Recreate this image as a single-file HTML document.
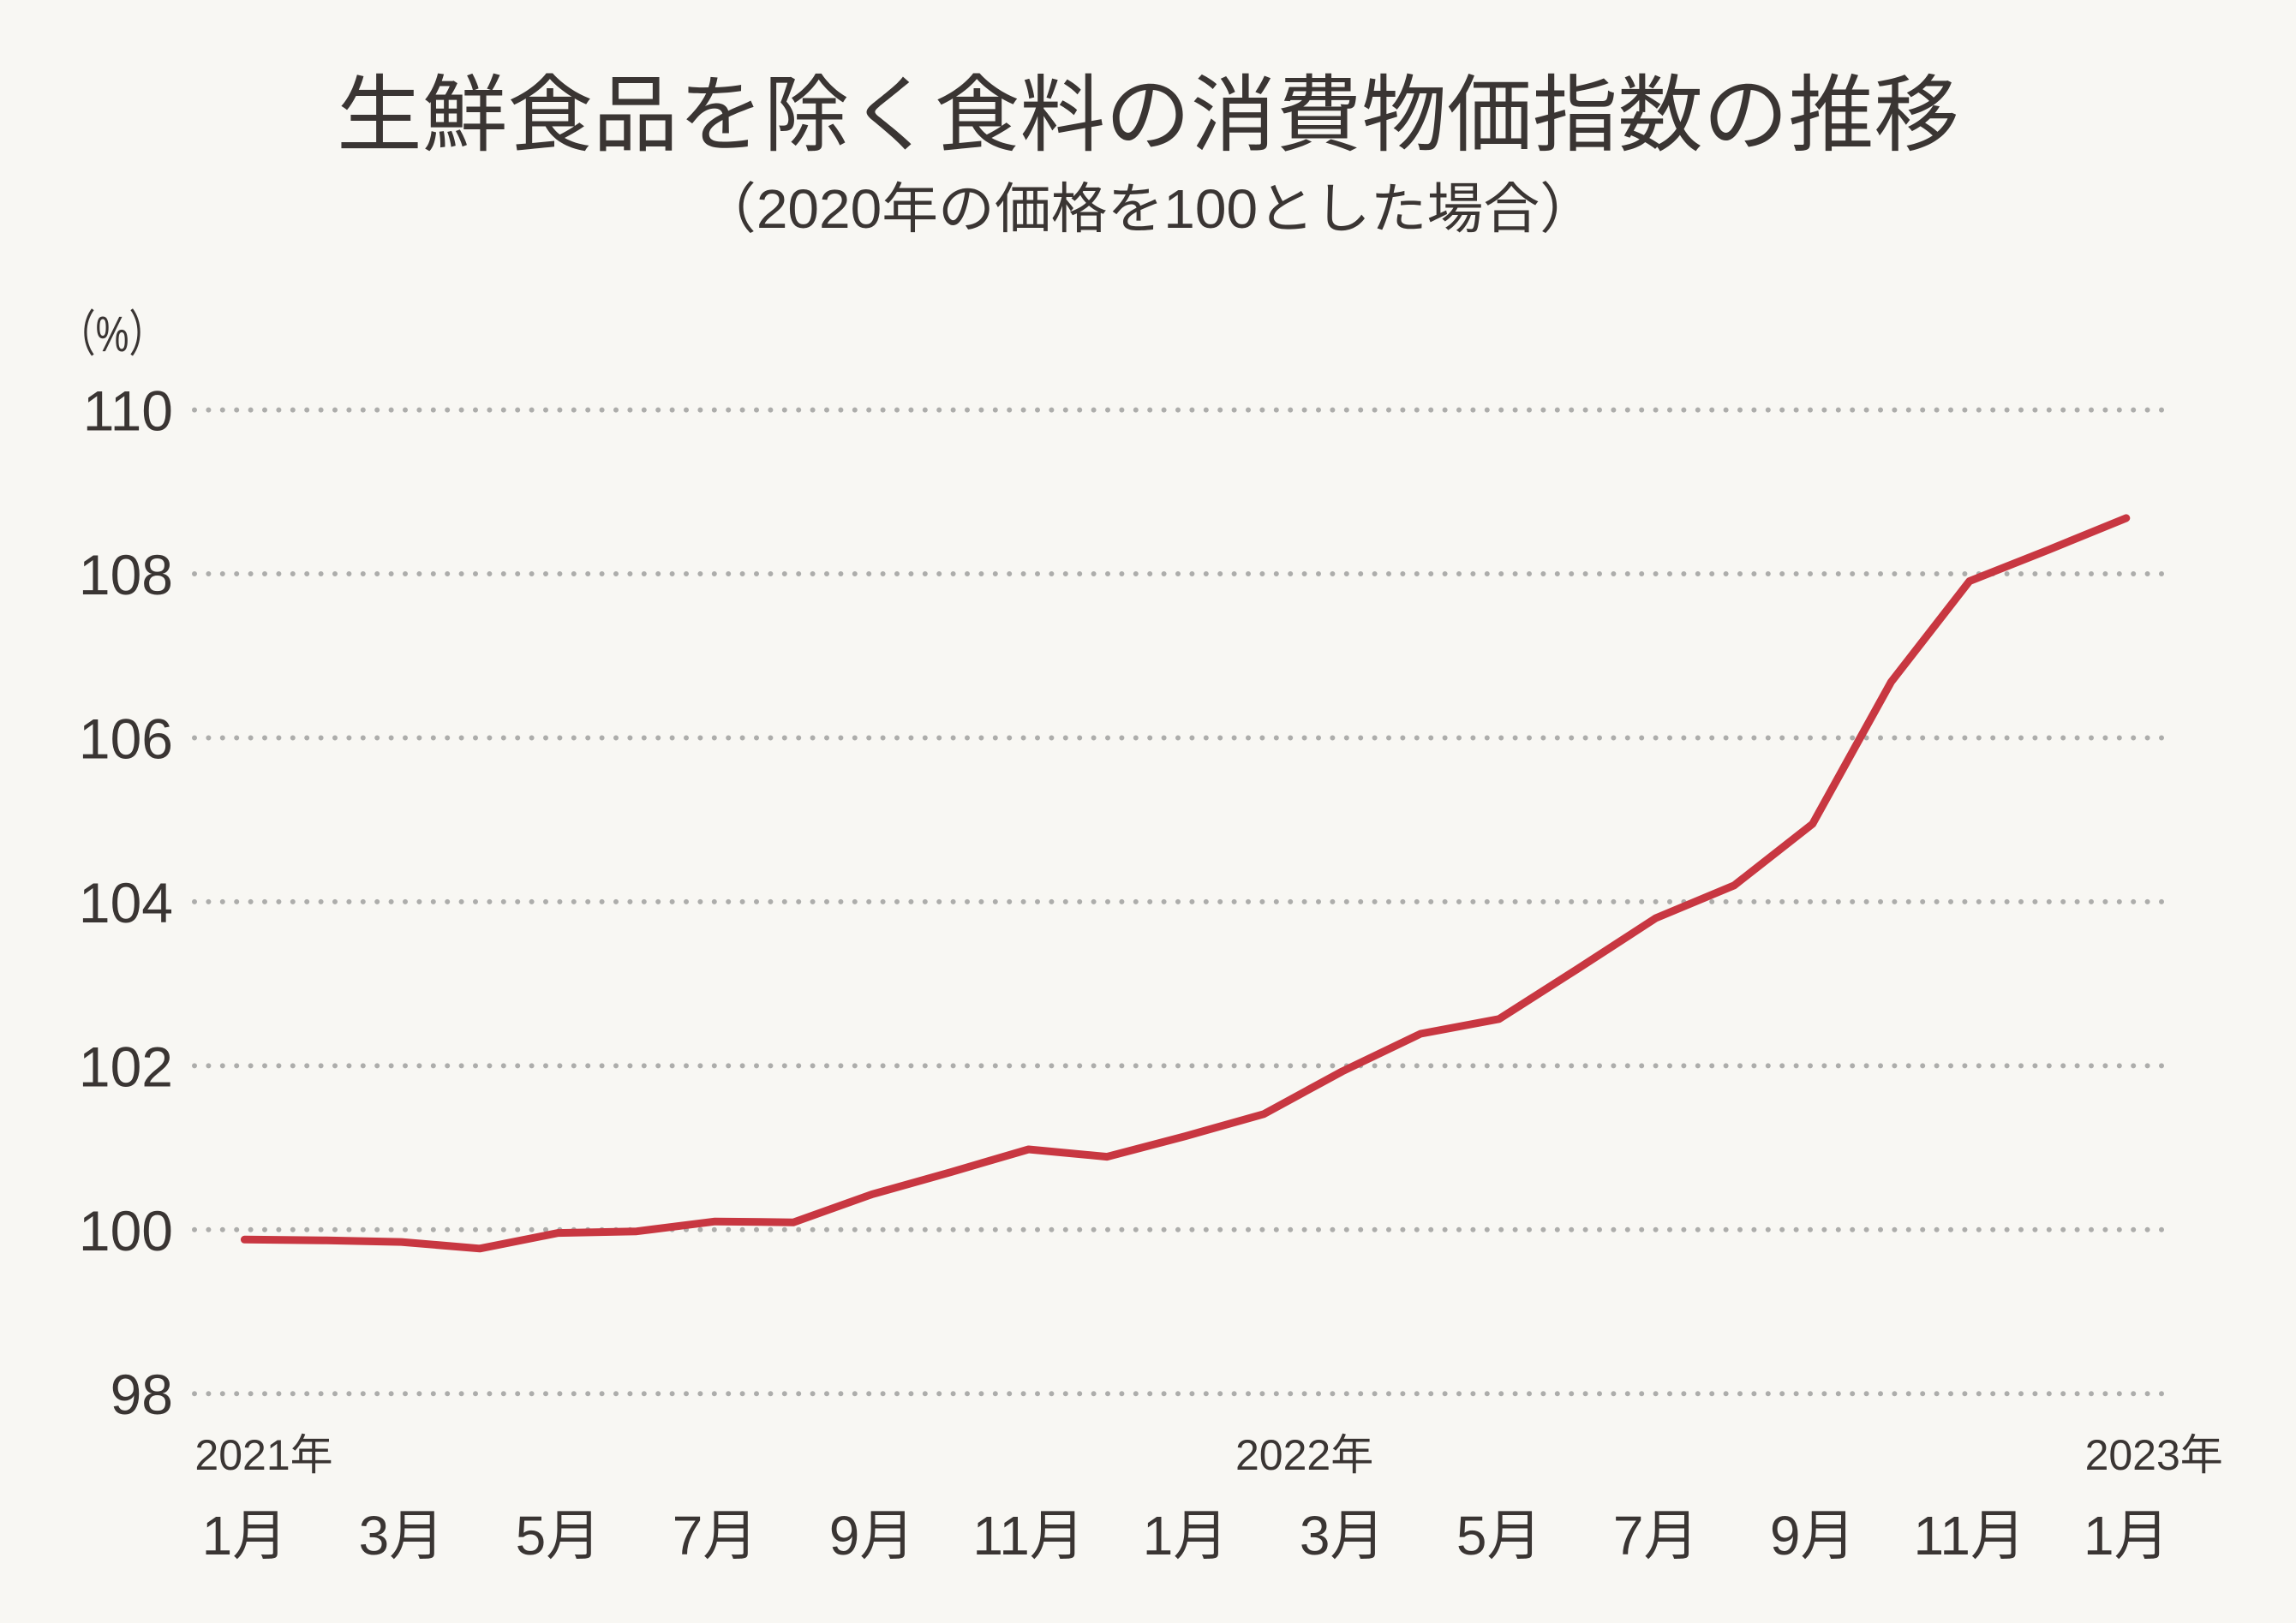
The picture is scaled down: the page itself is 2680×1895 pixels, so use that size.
<!DOCTYPE html>
<html><head><meta charset="utf-8"><style>
html,body{margin:0;padding:0;background:#f8f7f3;}
svg{display:block;font-family:"Liberation Sans","Noto Sans CJK JP",sans-serif;}
</style></head><body>
<svg id="chart" width="2680" height="1895" viewBox="0 0 2680 1895" xmlns="http://www.w3.org/2000/svg">
<rect x="0" y="0" width="2680" height="1895" fill="#f8f7f3"/>
<text x="1340" y="168" text-anchor="middle" font-size="98" fill="#3a3533" textLength="1894" lengthAdjust="spacingAndGlyphs">生鮮食品を除く食料の消費物価指数の推移</text>
<text x="1340" y="266" text-anchor="middle" font-size="64" fill="#3a3533" textLength="1046" lengthAdjust="spacingAndGlyphs">（2020年の価格を100とした場合）</text>
<text x="68" y="410" font-size="58" fill="#3a3533" textLength="126" lengthAdjust="spacingAndGlyphs">（%）</text>
<g id="grid"></g>
<g id="yticks"></g>
<g id="xticks"></g>
<g id="series"></g>
</svg>
<script>
const months = ["1月","2月","3月","4月","5月","6月","7月","8月","9月","10月","11月","12月","1月","2月","3月","4月","5月","6月","7月","8月","9月","10月","11月","12月","1月"];
const values = [99.88,99.87,99.85,99.77,99.96,99.98,100.10,100.09,100.43,100.70,100.98,100.89,101.14,101.41,101.93,102.39,102.57,103.18,103.80,104.20,104.95,106.68,107.91,108.29,108.68];
const yTicks = [98,100,102,104,106,108,110];
const yearLabels = ["2021年","2022年","2023年"];
const yearIdx = [0,12,24];

const NS="http://www.w3.org/2000/svg";
const x0=285.4, x1=2481.8, yTop=478.6, yBot=1627.2, vMin=98, vMax=110;
function xs(i){return x0+(x1-x0)*i/(months.length-1);}
function ys(v){return yBot-(v-vMin)/(vMax-vMin)*(yBot-yTop);}
function mk(tag,attrs,parent){const e=document.createElementNS(NS,tag);for(const k in attrs)e.setAttribute(k,attrs[k]);parent.appendChild(e);return e;}

const grid=document.getElementById('grid');
const yt=document.getElementById('yticks');
yTicks.forEach(v=>{
  const l=mk('line',{x1:227,x2:2535,y1:ys(v),y2:ys(v),stroke:'#adadab','stroke-width':6,'stroke-linecap':'round','stroke-dasharray':'0 16.4'},grid);
  
  
  const t=mk('text',{x:202,y:ys(v)+24,'text-anchor':'end','font-size':66,fill:'#3a3533'},yt);
  t.textContent=v;
  
  
});

const xt=document.getElementById('xticks');
months.forEach((m,i)=>{
  if(i%2!==0)return;
  const t=mk('text',{x:xs(i),y:1815,'text-anchor':'middle','font-size':64,fill:'#3a3533'},xt);
  t.textContent=m;
  
  
});
const anchors=['start','middle','end'];
const offs=[-58,139,113];
yearLabels.forEach((y,k)=>{
  const t=mk('text',{x:xs(yearIdx[k])+offs[k],y:1716,'text-anchor':anchors[k],'font-size':50,fill:'#3a3533'},xt);
  t.textContent=y;
  
  
});

const s=document.getElementById('series');
const pts=values.map((v,i)=>xs(i).toFixed(1)+','+ys(v).toFixed(1)).join(' ');
const pl=mk('polyline',{points:pts,fill:'none',stroke:'#c83741','stroke-width':9,'stroke-linejoin':'round','stroke-linecap':'round'},s);


</script>
</body></html>
